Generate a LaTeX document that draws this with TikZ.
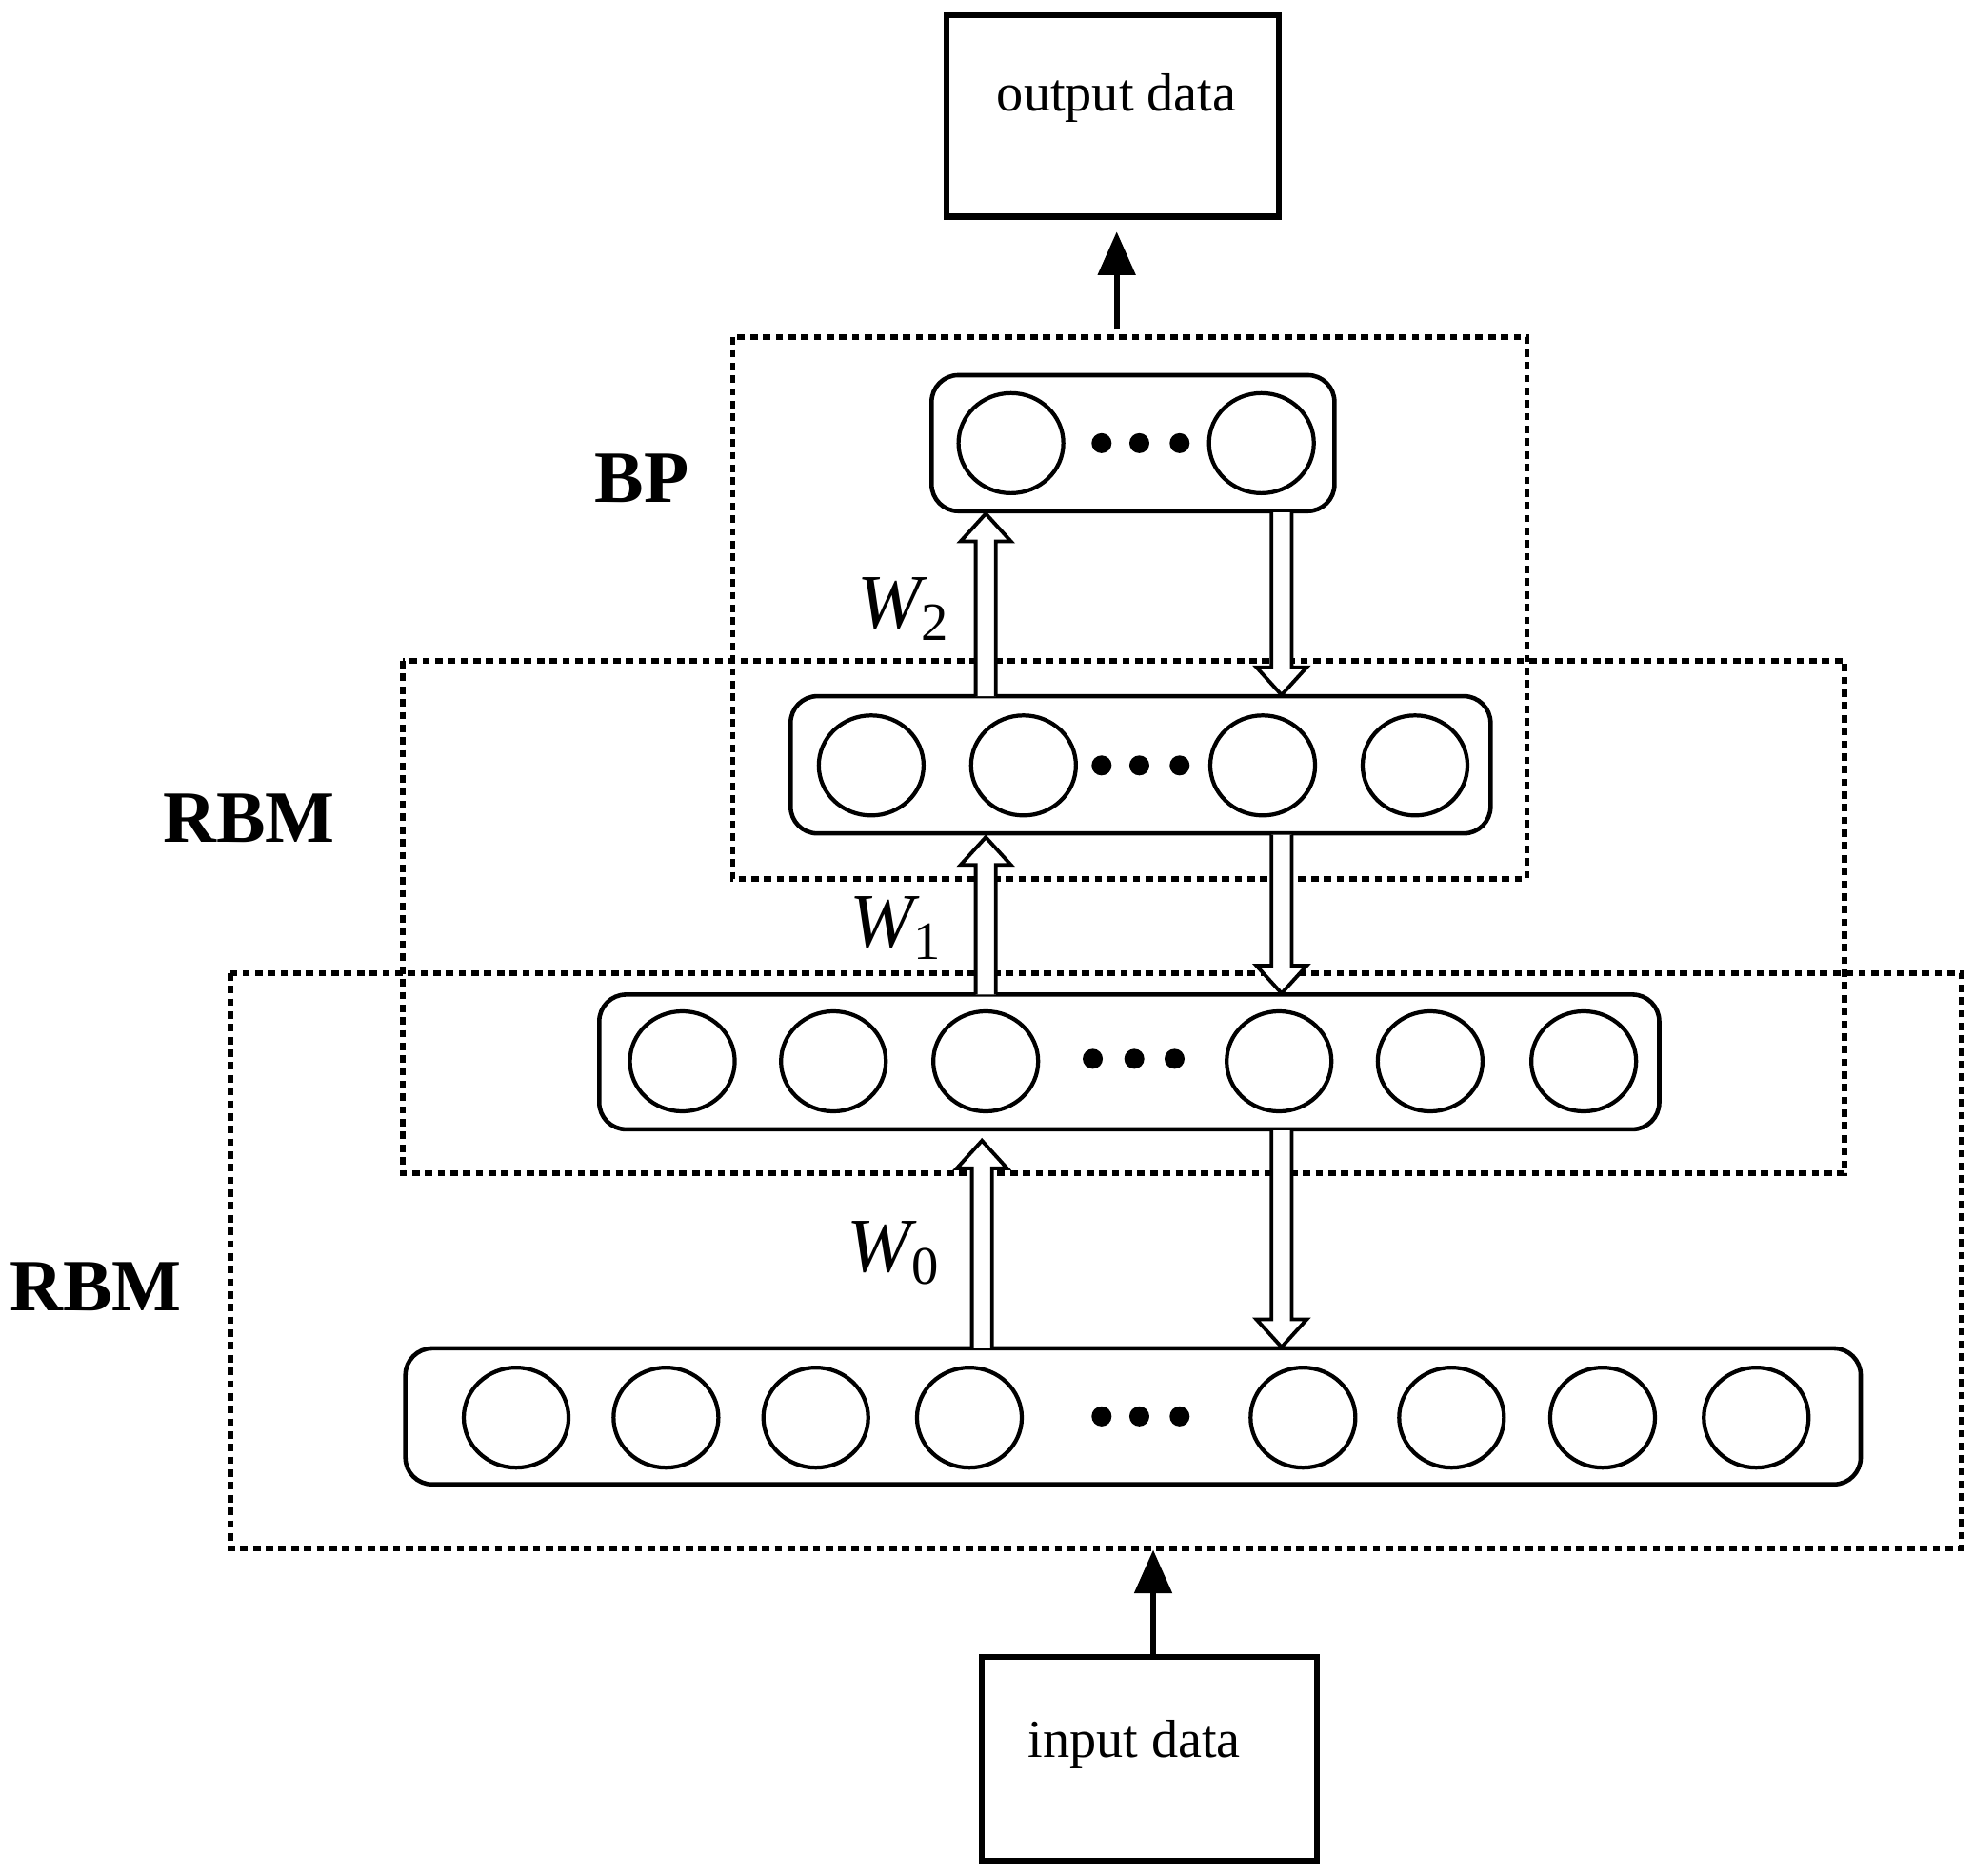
\documentclass[tikz,border=0pt]{standalone}
\usepackage{fontspec}
\setmainfont{Liberation Serif}
\usetikzlibrary{arrows.meta,shapes.geometric}
\tikzset{
  layer/.style={draw, line width=1.3pt, rounded corners=8pt},
  unit/.style={draw, line width=1.2pt, ellipse, minimum width=1.1cm, minimum height=1.05cm, inner sep=0pt},
  group/.style={draw, line width=1.6pt, dash pattern=on 2.2pt off 1.6pt},
  databox/.style={draw, line width=1.8pt},
  dot/.style={fill, circle, inner sep=0pt, minimum size=0.21cm},
  tag/.style={font=\fontsize{22}{24}\selectfont\bfseries},
  weight/.style={font=\fontsize{23}{25}\selectfont\itshape},
}
% hollow arrow: x, tail y, head y
\newcommand{\hollow}[3]{%
  \pgfmathsetmacro{\dir}{(#3>#2)?1:-1}
  \draw[line width=1.1pt, fill=white]
    (#1-8,#2)--(#1-8,#3-\dir*22)--(#1-20,#3-\dir*22)--(#1,#3)
    --(#1+20,#3-\dir*22)--(#1+8,#3-\dir*22)--(#1+8,#2);
}
\begin{document}
\begin{tikzpicture}[x=0.013221cm, y=-0.013221cm]
  \useasboundingbox (0,0) rectangle (1568,1490);
  % data boxes
  \draw[databox] (752,12) rectangle (1016,172);
  \node[font=\fontsize{16}{18}\selectfont] (out) at (887,78) {output data};
  \draw[databox] (780,1316) rectangle (1046,1478);
  \node[font=\fontsize{16}{18}\selectfont] (in) at (901,1386) {input data};
  \coordinate (outA) at (887,262); \coordinate (outB) at (887,184);
  \coordinate (inA) at (916,1314); \coordinate (inB) at (916,1231);
  \draw[line width=1.8pt, -{Triangle[length=13pt, width=11pt]}] (outA) -- (outB);
  \draw[line width=1.8pt, -{Triangle[length=13pt, width=11pt]}] (inA) -- (inB);
  % groups
  \draw[group] (582,268) rectangle (1213,698);
  \draw[group] (320,525) rectangle (1465,932);
  \draw[group] (183,773) rectangle (1558,1230);
  \node[tag] (bp) at (510,380) {BP};
  \node[tag] (rbmb) at (198,650) {RBM};
  \node[tag] (rbma) at (76,1022) {RBM};
  % layers
  \draw[layer, fill=white] (740,298) rectangle (1060,406);
  \foreach \x in {803,1002} \node[unit] at (\x,352) {};
  \foreach \x in {875,905,937} \node[dot] at (\x,352) {};
  \draw[layer, fill=white] (628,553) rectangle (1184,662);
  \foreach \x in {692,813,1003,1124} \node[unit] at (\x,608) {};
  \foreach \x in {875,905,937} \node[dot] at (\x,608) {};
  \draw[layer, fill=white] (476,790) rectangle (1318,897);
  \foreach \x in {542,662,783,1016,1136,1258} \node[unit] at (\x,843) {};
  \foreach \x in {868,901,933} \node[dot] at (\x,841) {};
  \draw[layer, fill=white] (322,1071) rectangle (1478,1179);
  \foreach \x in {410,529,648,770,1035,1153,1273,1395} \node[unit] at (\x,1126) {};
  \foreach \x in {875,905,937} \node[dot] at (\x,1125) {};
  % weights
  \hollow{783}{553}{408}
  \hollow{1018}{407}{552}
  \hollow{783}{790}{665}
  \hollow{1018}{663}{789}
  \hollow{780}{1071}{906}
  \hollow{1018}{898}{1070}
  \node[weight] (w2) at (718,484) {W\textsubscript{\upshape 2}};
  \node[weight] (w1) at (712,737) {W\textsubscript{\upshape 1}};
  \node[weight] (w0) at (710,995) {W\textsubscript{\upshape 0}};
\end{tikzpicture}
\end{document}
